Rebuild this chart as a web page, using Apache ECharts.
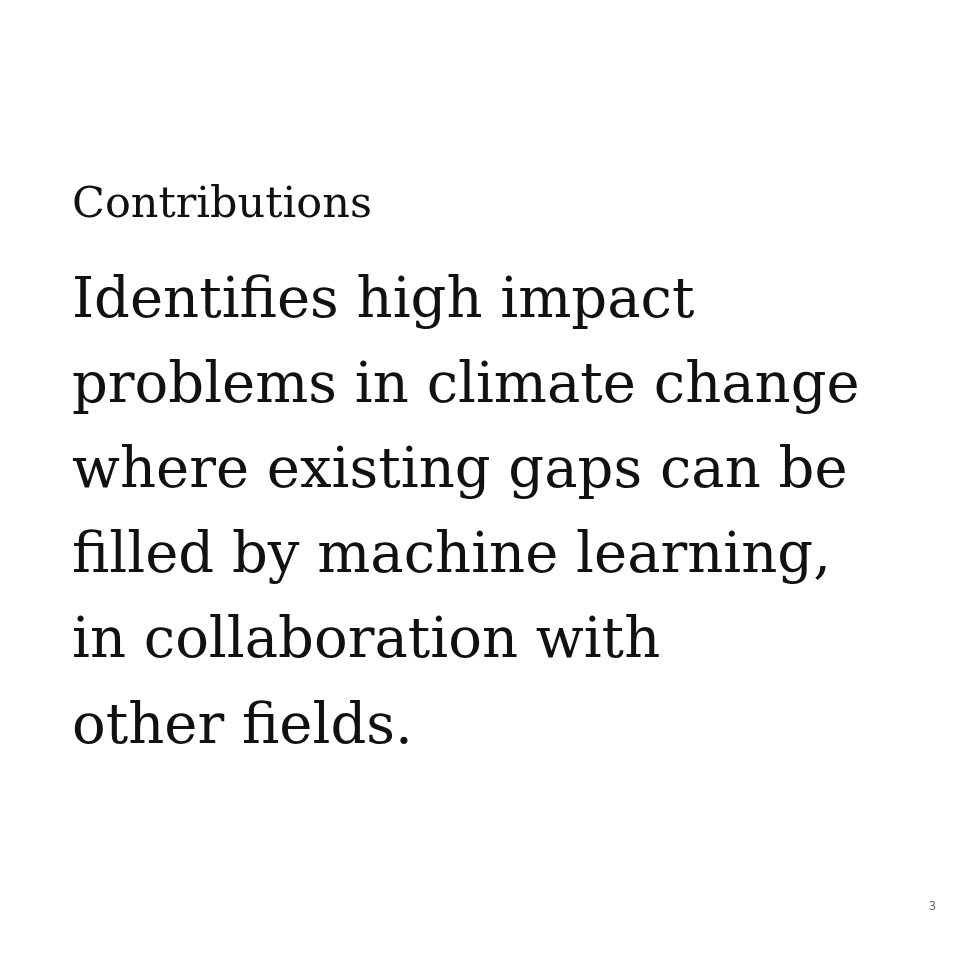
<!DOCTYPE html>
<html>
<head>
<meta charset="utf-8">
<script src="https://cdn.jsdelivr.net/npm/echarts@6/dist/echarts.min.js"></script>
<style>html,body{margin:0;padding:0;background:#fff}#main{width:960px;height:960px}</style>
</head>
<body>
<div id="main"></div>
<script>
var heading = 'Contributions'
var bodyLines = ['Identifies high impact', 'problems in climate change', 'where existing gaps can be', 'filled by machine learning,', 'in collaboration with', 'other fields.']
var pageNumber = '3'

var chart = echarts.init(document.getElementById('main'), null, {renderer: 'canvas'})
var font = '"DejaVu Serif", "Liberation Serif", serif'
var elements = [{
  type: 'text', left: 72, top: 184,
  style: {text: heading, font: '43px ' + font, fill: '#111'}
}]
bodyLines.forEach(function (t, i) {
  elements.push({
    type: 'text', left: 72, top: 305 + i * 85.2 - 31,
    style: {text: t, font: '56px ' + font, fill: '#111'}
  })
})
elements.push({
  type: 'text', left: 929, top: 901,
  style: {text: pageNumber, font: '12px "Noto Sans", sans-serif', fill: '#666'}
})
chart.setOption({backgroundColor: '#fff', graphic: elements})
</script>
</body>
</html>
